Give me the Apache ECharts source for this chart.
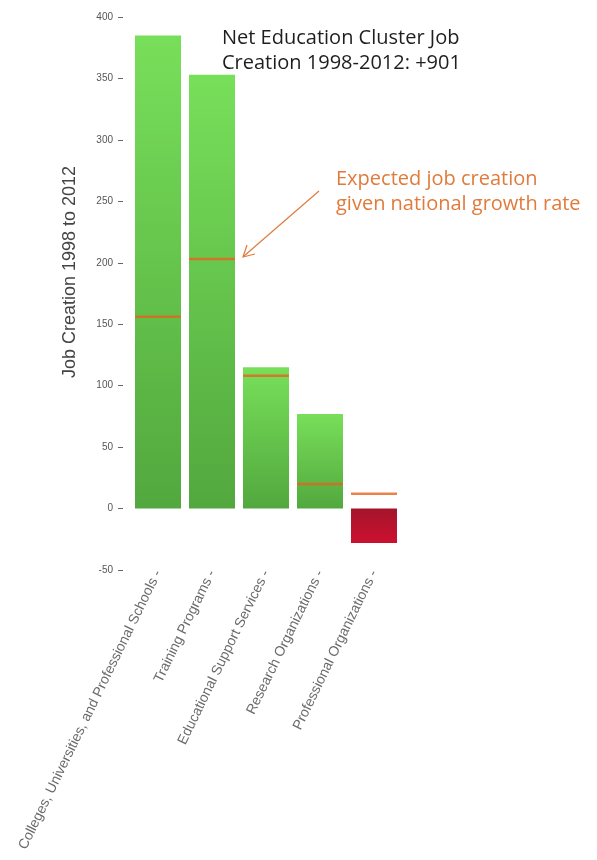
<!DOCTYPE html>
<html>
<head>
<meta charset="utf-8">
<script src="https://cdn.jsdelivr.net/npm/echarts@6/dist/echarts.min.js"></script>
<style>
    html, body { margin: 0; padding: 0; background: #fff; }
    #job-chart { width: 597px; height: 860px; }
</style>
</head>
<body>
<div id="job-chart"></div>
<script>
    var categories = ['Colleges, Universities, and Professional Schools', 'Training Programs',
        'Educational Support Services', 'Research Organizations', 'Professional Organizations'];
    var actualJobs = [385, 353, 115, 77, -28];
    var expectedJobs = [156, 203, 108, 20, 12];
    var yTicks = { min: -50, max: 400, interval: 50 };

    var greenFill = new echarts.graphic.LinearGradient(0, 0, 0, 1, [
        {offset: 0, color: '#78DF5A'},
        {offset: 1, color: '#52A83E'}
    ]);
    var redFill = new echarts.graphic.LinearGradient(0, 0, 0, 1, [
        {offset: 0, color: '#A3152B'},
        {offset: 1, color: '#CC1030'}
    ]);

    var chart = echarts.init(document.getElementById('job-chart'));
    var option = {
        animation: false,
        grid: {
            left: 131,
            top: 17,
            width: 270,
            height: 553
        },
        xAxis: {
            type: 'category',
            data: categories,
            position: 'bottom',
            axisLine: {show: false},
            axisTick: {show: false},
            axisLabel: {
                interval: 0,
                rotate: 64,
                margin: 1,
                color: '#6a6a6a',
                fontSize: 14,
                fontFamily: 'Liberation Sans, Arial',
                formatter: function (v) {
                    return v + ' -';
                }
            }
        },
        yAxis: {
            type: 'value',
            min: yTicks.min,
            max: yTicks.max,
            interval: yTicks.interval,
            offset: 8,
            splitLine: {show: false},
            axisLine: {show: false},
            axisTick: {
                show: true,
                length: 5,
                lineStyle: {color: '#666', width: 1}
            },
            axisLabel: {
                margin: 10,
                color: '#555',
                fontSize: 10,
                fontFamily: 'Liberation Sans, Arial'
            }
        },
        series: [
            {
                name: 'Job Creation',
                type: 'bar',
                barWidth: 46,
                data: actualJobs.map(function (v) {
                    return {value: v, itemStyle: {color: v < 0 ? redFill : greenFill}};
                })
            },
            {
                name: 'Expected',
                type: 'scatter',
                symbol: 'rect',
                symbolSize: [46, 2.5],
                z: 5,
                itemStyle: {color: '#E8621E'},
                data: expectedJobs
            }
        ],
        graphic: [
            {
                type: 'text',
                x: 70,
                y: 272,
                rotation: Math.PI / 2,
                style: {
                    text: 'Job Creation 1998 to 2012',
                    fill: '#444',
                    font: '18px "Liberation Sans", Arial',
                    align: 'center',
                    verticalAlign: 'middle'
                }
            },
            {
                type: 'text',
                x: 222,
                y: 26,
                style: {
                    text: 'Net Education Cluster Job\nCreation 1998-2012: +901',
                    fill: '#1e1e1e',
                    font: '20px "Open Sans"',
                    lineHeight: 25
                }
            },
            {
                type: 'text',
                x: 336,
                y: 167,
                style: {
                    text: 'Expected job creation\ngiven national growth rate',
                    fill: '#E07B3C',
                    font: '20px "Open Sans"',
                    lineHeight: 25
                }
            },
            {
                type: 'line',
                shape: {x1: 319, y1: 191, x2: 244, y2: 256},
                style: {stroke: '#E07B3C', lineWidth: 1.2}
            },
            {
                type: 'polyline',
                shape: {points: [[247, 245], [243, 257], [255, 254]]},
                style: {stroke: '#E07B3C', lineWidth: 1.2, fill: null}
            }
        ]
    };
    chart.setOption(option);
</script>
</body>
</html>
